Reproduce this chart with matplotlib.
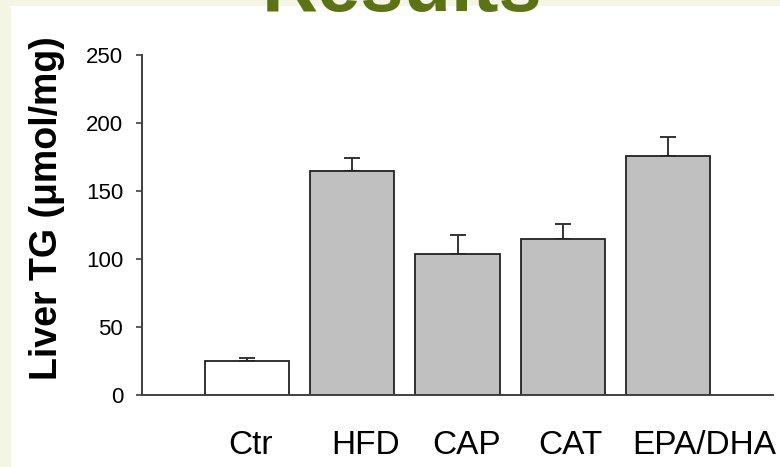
import matplotlib
matplotlib.use("Agg")
import matplotlib.pyplot as plt
import matplotlib.transforms as mtransforms
import numpy as np

groups = ["Ctr", "HFD", "CAP", "CAT", "EPA/DHA"]
liver_tg = [24.8, 165.0, 103.6, 114.5, 176.0]
liver_tg_err = [2.5, 9.0, 14.0, 11.5, 14.0]
bar_colors = ["white", "#c0c0c0", "#c0c0c0", "#c0c0c0", "#c0c0c0"]
y_ticks = [0, 50, 100, 150, 200, 250]

plt.rcParams["font.family"] = ["Liberation Sans", "DejaVu Sans"]

fig = plt.figure(figsize=(7.8, 4.67), dpi=100)
fig.patch.set_facecolor("#f5f5e6")
# white slide panel
fig.patches.append(plt.Rectangle((11 / 780, 0), 1, 1 - 6 / 467, transform=fig.transFigure,
                                 facecolor="white", edgecolor="none", zorder=0))
# slide title, mostly cut off by the top edge
fig.text(0.515, 1 - 11 / 467, "Results", color="#5b7314", fontsize=56, fontweight="bold",
         ha="center", va="baseline", zorder=1)

ax = fig.add_axes([142 / 780, (467 - 394.7) / 467, 631 / 780, 339.4 / 467])
ax.set_zorder(2)
ax.set_facecolor("none")

x = np.arange(len(groups))
ax.bar(x, liver_tg, width=0.8, color=bar_colors, edgecolor="#222222", linewidth=1.3, zorder=2)
ax.errorbar(x, liver_tg, yerr=[np.zeros(len(x)), liver_tg_err], fmt="none",
            ecolor="#333333", elinewidth=1.4, capsize=5.8, capthick=1.4, zorder=1)

ax.set_xlim(-1, 5)
ax.set_ylim(0, 250)
ax.set_yticks(y_ticks)
ax.tick_params(axis="y", direction="out", length=4.5, width=1.2, color="#404040",
               labelsize=16, pad=9)
ax.set_xticks([])

for side in ["top", "right"]:
    ax.spines[side].set_visible(False)
for side in ["left", "bottom"]:
    ax.spines[side].set_color("#404040")
    ax.spines[side].set_linewidth(1.4)

# group names typed under the bars, not exactly centred
label_shift = [0.03, 0.13, 0.09, 0.07, 0.35]
trans = mtransforms.blended_transform_factory(ax.transData, ax.transAxes)
for i, name in enumerate(groups):
    ax.text(x[i] + label_shift[i], -0.175, name, transform=trans, fontsize=24,
            ha="center", va="baseline", clip_on=False)

ax.set_ylabel("Liver TG (μmol/mg)", fontsize=27, fontweight="bold", va="center")
ax.yaxis.set_label_coords(-0.15, 0.55)

fig.savefig("out.png", dpi=100, facecolor=fig.get_facecolor())
